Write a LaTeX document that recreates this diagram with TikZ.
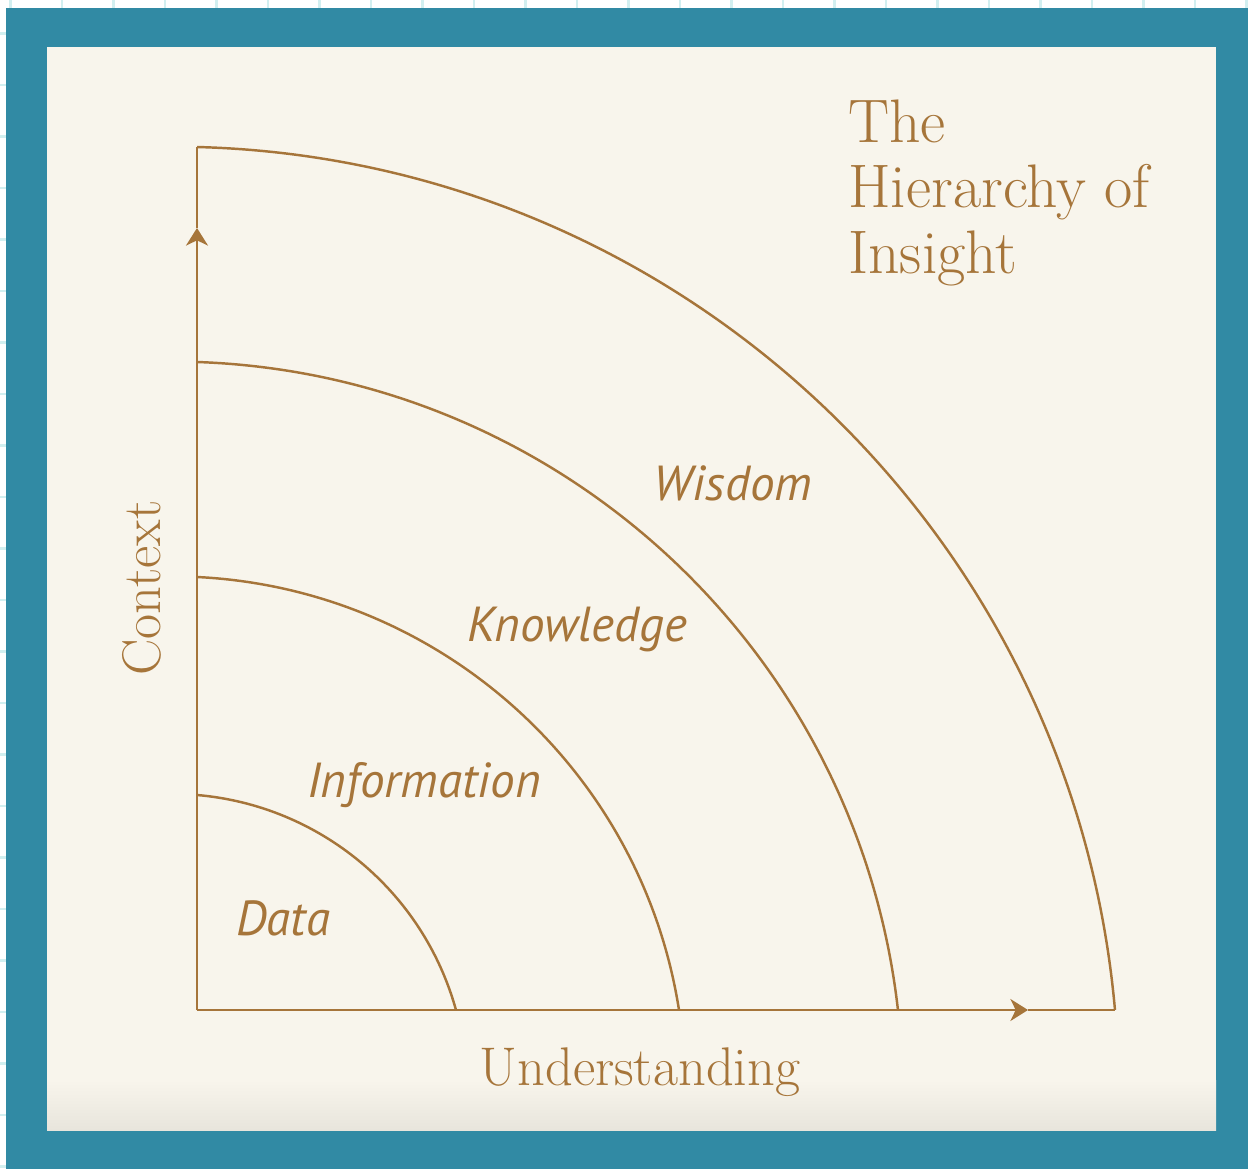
\documentclass[tikz,border=0pt]{standalone}
\usepackage{fontspec}
\newfontfamily\labelfont{PT Sans}
\usetikzlibrary{arrows.meta}
\definecolor{framecol}{HTML}{318AA4}
\definecolor{paper}{HTML}{F8F5EC}
\definecolor{paperdark}{HTML}{E8E5DC}
\definecolor{ink}{HTML}{A6753A}
\definecolor{gridcol}{HTML}{D2EFF0}
\tikzset{>={Stealth[length=10pt,width=12.5pt,inset=3pt]}}
\tikzset{
    gridline/.style={draw=gridcol,line width=1.5pt},
    axis/.style={draw=ink,line width=1.4pt},
    band/.style={draw=ink,line width=1.4pt},
    level/.style={text=ink,inner sep=0pt,anchor=base,font=\labelfont\itshape\fontsize{28}{30}\selectfont},
    axislabel/.style={text=ink,inner sep=0pt,anchor=base,font=\fontsize{31}{34}\selectfont},
    heading/.style={text=ink,inner sep=0pt,anchor=north west,align=left,font=\fontsize{35}{37.5}\selectfont},
}

\begin{document}
\begin{tikzpicture}[x=0.2mm,y=-0.2mm]
    \useasboundingbox (0,0) rectangle (1248,1169);
    % squared paper behind the frame
    \fill[white] (0,0) rectangle (1248,1169);
    \foreach \x in {10.5,62,...,1248} \draw[gridline] (\x,0) -- (\x,1169);
    \foreach \y in {-18,33.5,...,1169} \draw[gridline] (0,\y) -- (1248,\y);
    \fill[framecol] (6,8) rectangle (1248,1169);
    \fill[paper] (47,47) rectangle (1216,1130);
    \shade[top color=paper,bottom color=paperdark] (47,1080) rectangle (1216,1130);

    \coordinate (o) at (197,1010);
    \coordinate (ytip) at (197,228);
    \coordinate (ytop) at (197,147);
    \coordinate (xtip) at (1028,1010);
    \coordinate (xend) at (1115,1010);

    \draw[axis,->] (o) -- (ytip);
    \draw[axis] (ytip) -- (ytop);
    \draw[axis,->] (o) -- (xtip);
    \draw[axis] (xtip) -- (xend);

    % rings start on the vertical axis
    \coordinate (r1) at (197,795);
    \coordinate (r2) at (197,577);
    \coordinate (r3) at (197,362);

    \draw[band] (r1) arc[start angle=-85.13,end angle=-15.47,radius=294.7];
    \draw[band] (r2) arc[start angle=-87.21,end angle=-8.92,radius=513.2];
    \draw[band] (r3) arc[start angle=-88.04,end angle=-6.46,radius=730.6];
    \draw[band] (ytop) arc[start angle=-88.49,end angle=-5.05,radius=946.6];

    \node[level] (data) at (283,935) {Data};
    \node[level] (info) at (424,797) {Information};
    \node[level] (know) at (577,641) {Knowledge};
    \node[level] (wis) at (733,500) {Wisdom};

    \node[axislabel] (under) at (640,1085) {Understanding};
    \node[axislabel,rotate=90] (ctx) at (160,588) {Context};

    \node[heading] (head) at (848,99) {The\\Hierarchy of\\Insight};
\end{tikzpicture}
\end{document}
